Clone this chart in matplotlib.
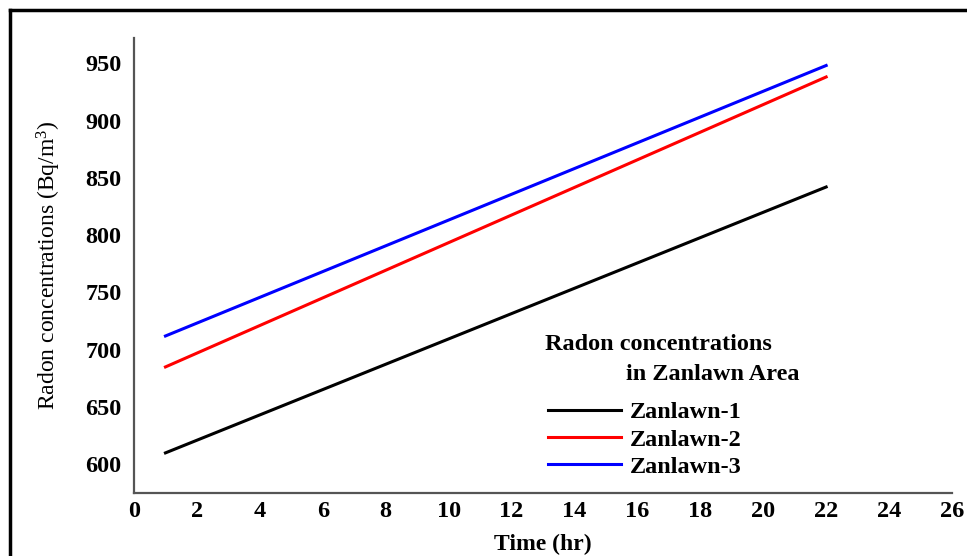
import matplotlib
matplotlib.use("Agg")
import matplotlib.pyplot as plt
from matplotlib.lines import Line2D

time_hr = [1, 22]
zanlawn_1 = [610, 842]
zanlawn_2 = [685, 938]
zanlawn_3 = [712, 948]
series_labels = ["Zanlawn-1", "Zanlawn-2", "Zanlawn-3"]
series_colors = ["black", "red", "blue"]
x_ticks = list(range(0, 27, 2))
y_ticks = [600, 650, 700, 750, 800, 850, 900, 950]
legend_title = ["Radon concentrations", "in Zanlawn Area"]

plt.rcParams['font.family'] = ['Liberation Serif', 'DejaVu Serif']
plt.rcParams['mathtext.fontset'] = 'custom'
plt.rcParams['mathtext.rm'] = 'Liberation Serif'
plt.rcParams['mathtext.it'] = 'Liberation Serif:italic'

fig = plt.figure(figsize=(9.67, 5.56), dpi=100)
ax = fig.add_axes([134/967, 1-493/556, (952-134)/967, (493-38)/556])

for ys, lab, col in zip([zanlawn_1, zanlawn_2, zanlawn_3], series_labels, series_colors):
    ax.plot(time_hr, ys, color=col, lw=2.2, label=lab)

ax.set_xlim(0, 26)
ax.set_ylim(575, 972)
ax.set_xticks(x_ticks)
ax.set_yticks(y_ticks)
ax.tick_params(length=0, labelsize=17.5)
ax.tick_params(axis='x', pad=6)
ax.tick_params(axis='y', pad=9)
for t in ax.get_xticklabels() + ax.get_yticklabels():
    t.set_fontweight('bold')
for s in ['top', 'right']:
    ax.spines[s].set_visible(False)
for s in ['left', 'bottom']:
    ax.spines[s].set_color('#555555')
    ax.spines[s].set_linewidth(1.6)

ax.set_xlabel('Time (hr)', fontsize=17, fontweight='bold', labelpad=8)
ax.set_ylabel(r'Radon concentrations (Bq/m$^{3}$)', fontsize=17, labelpad=16)

fig.text(545/967, 1-345/556, legend_title[0], fontsize=17.5, fontweight='bold', ha='left', va='center')
fig.text(626/967, 1-375/556, legend_title[1], fontsize=17.5, fontweight='bold', ha='left', va='center')

leg = ax.legend(loc='upper left', bbox_to_anchor=(536/967, 1-389/556),
                bbox_transform=fig.transFigure, frameon=False,
                prop={'weight': 'bold', 'size': 17.5},
                handlelength=3.0, handletextpad=0.35, labelspacing=0.22, borderpad=0)
for l in leg.get_lines():
    l.set_linewidth(2.2)

fig.add_artist(Line2D([10/967, 1], [1-10/556, 1-10/556], color='black', lw=2.5, transform=fig.transFigure))
fig.add_artist(Line2D([10/967, 10/967], [0, 1-10/556], color='black', lw=2.5, transform=fig.transFigure))

fig.savefig('out.png', dpi=100)
